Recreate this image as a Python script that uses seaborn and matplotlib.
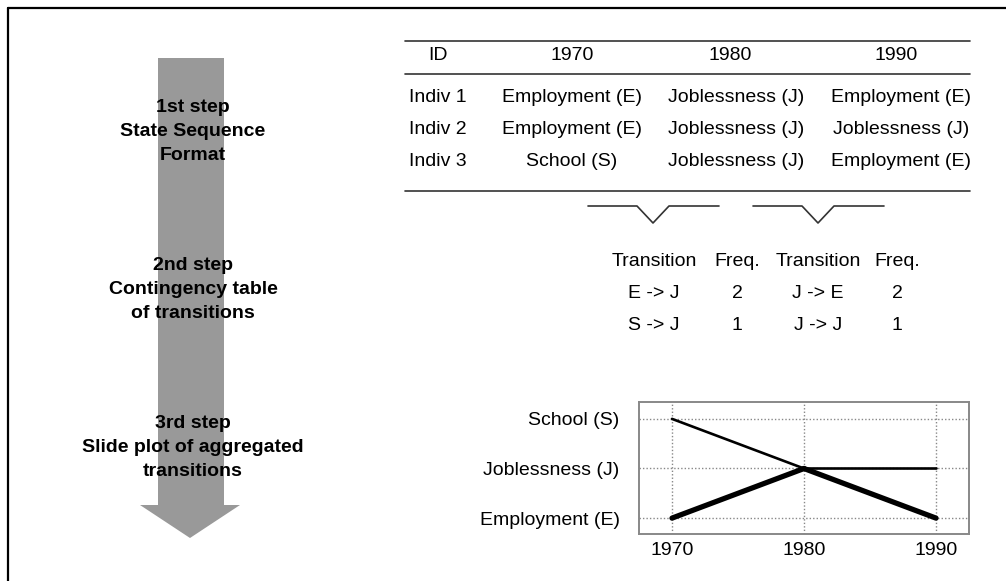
import pandas as pd
import seaborn as sns
import matplotlib.pyplot as plt
from matplotlib.patches import Polygon

sns.set_theme(style="white")
plt.rcParams["font.family"] = ["Liberation Sans", "DejaVu Sans"]
plt.rcParams["text.color"] = "black"
plt.rcParams["xtick.color"] = "black"
plt.rcParams["ytick.color"] = "black"

# data
years = [1970, 1980, 1990]
state_codes = ["E", "J", "S"]
state_names = ["Employment (E)", "Joblessness (J)", "School (S)"]
indiv_ids = ["Indiv 1", "Indiv 2", "Indiv 3"]
seq_1970 = ["Employment (E)", "Employment (E)", "School (S)"]
seq_1980 = ["Joblessness (J)", "Joblessness (J)", "Joblessness (J)"]
seq_1990 = ["Employment (E)", "Joblessness (J)", "Employment (E)"]

trans_from_year = [1970, 1970, 1980, 1980]
trans_to_year = [1980, 1980, 1990, 1990]
trans_from = ["E", "S", "J", "J"]
trans_to = ["J", "J", "E", "J"]
trans_freq = [2, 1, 2, 1]

step_labels = [
    ["1st step", "State Sequence", "Format"],
    ["2nd step", "Contingency table", "of transitions"],
    ["3rd step", "Slide plot of aggregated", "transitions"],
]

W, H = 1006, 581
fig = plt.figure(figsize=(W / 100, H / 100), dpi=100)

# canvas in pixel coordinates for the diagram part
bg = fig.add_axes([0, 0, 1, 1])
bg.set_xlim(0, W)
bg.set_ylim(H, 0)
bg.axis("off")

# frame (left and top only)
bg.plot([8, 8], [8, H], color="black", lw=1.6)
bg.plot([8, W], [8, 8], color="black", lw=1.6)

# big grey arrow
arrow = Polygon([(158, 58), (224, 58), (224, 505), (240, 505), (190, 538),
                 (140, 505), (158, 505)], closed=True, facecolor="#999999",
                edgecolor="none")
bg.add_patch(arrow)
for lines, y0 in zip(step_labels, [107, 266, 423]):
    for k, lab in enumerate(lines):
        bg.text(193, y0 + 24 * k, lab, ha="center", va="center",
                fontsize=14, fontweight="bold")

# sequence table
line_kw = dict(color="#333333", lw=1.2)
for yl in [41, 74, 191]:
    bg.plot([405, 970], [yl, yl], **line_kw)
head_x = [438, 572, 730, 896]
cell_x = [438, 572, 736, 901]
for x, lab in zip(head_x, ["ID"] + [str(y) for y in years]):
    bg.text(x, 56, lab, ha="center", va="center", fontsize=14)
for i, yr in enumerate([98, 130, 162]):
    row = [indiv_ids[i], seq_1970[i], seq_1980[i], seq_1990[i]]
    for x, lab in zip(cell_x, row):
        bg.text(x, yr, lab, ha="center", va="center", fontsize=14)

# brackets
for cx in [653, 818]:
    bg.plot([cx - 65, cx - 16, cx, cx + 16, cx + 66],
            [206, 206, 223, 206, 206], **line_kw)

# transition table
tcol_x = [654, 737, 818, 897]
for x, lab in zip(tcol_x, ["Transition", "Freq.", "Transition", "Freq."]):
    bg.text(x, 261, lab, ha="center", va="center", fontsize=14)
first = [i for i, y in enumerate(trans_from_year) if y == years[0]]
second = [i for i, y in enumerate(trans_from_year) if y == years[1]]
for r, (a, b) in enumerate(zip(first, second)):
    yr = [293, 325][r]
    row = [f"{trans_from[a]} -> {trans_to[a]}", str(trans_freq[a]),
           f"{trans_from[b]} -> {trans_to[b]}", str(trans_freq[b])]
    for x, lab in zip(tcol_x, row):
        bg.text(x, yr, lab, ha="center", va="center", fontsize=14)

# slide plot
rows = []
for i in range(len(trans_freq)):
    rows.append({"seg": i, "year": trans_from_year[i],
                 "pos": state_codes.index(trans_from[i]), "freq": trans_freq[i]})
    rows.append({"seg": i, "year": trans_to_year[i],
                 "pos": state_codes.index(trans_to[i]), "freq": trans_freq[i]})
df = pd.DataFrame(rows)

ax = fig.add_axes([639 / W, 1 - 534 / H, 330 / W, 132 / H])
sns.lineplot(data=df, x="year", y="pos", units="seg", estimator=None,
             size="freq", sizes={1: 1.9, 2: 3.8}, color="black",
             legend=False, solid_capstyle="round", ax=ax)
ax.set_xlim(1967.5, 1992.5)
ax.set_ylim(-0.32, 2.34)
ax.set_xticks(years)
ax.set_xticklabels([str(y) for y in years], fontsize=14)
ax.set_yticks(range(len(state_names)))
ax.set_yticklabels(state_names, fontsize=14)
ax.tick_params(axis="x", length=0, pad=6)
ax.tick_params(axis="y", length=0, pad=14)
ax.set_xlabel("")
ax.set_ylabel("")
ax.grid(True, linestyle=(0, (1, 1.5)), color="#888888", lw=1)
ax.set_axisbelow(True)
for sp in ax.spines.values():
    sp.set_color("#888888")
    sp.set_linewidth(1.4)

plt.savefig("out.png", dpi=100)
